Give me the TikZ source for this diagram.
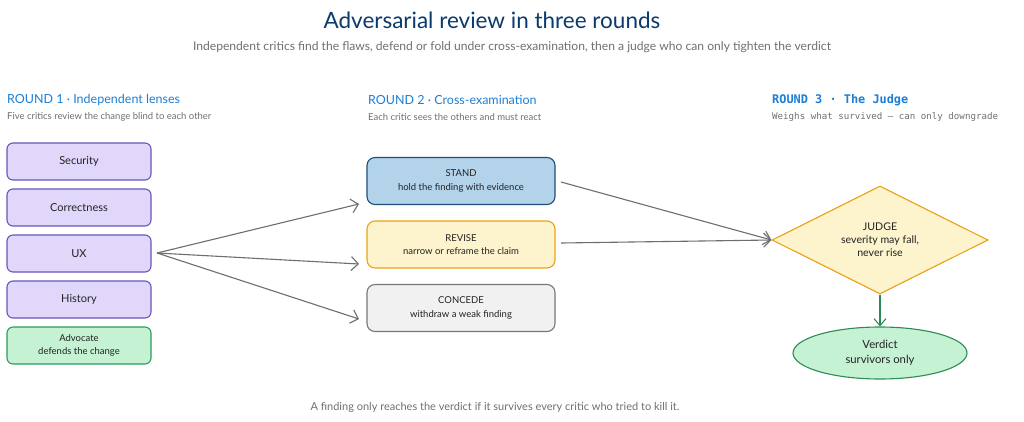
\documentclass[tikz,border=0pt]{standalone}
\usepackage{fontspec}
\setmainfont{Lato}
\newfontfamily\monof{DejaVu Sans Mono}
\usetikzlibrary{arrows.meta,shapes.geometric}
\definecolor{titleblue}{HTML}{0B3A6E}
\definecolor{hdrblue}{HTML}{1C7FD6}
\definecolor{subgray}{HTML}{707070}
\definecolor{txt}{HTML}{222222}
\definecolor{lavfill}{HTML}{E0D7FB}
\definecolor{lavdraw}{HTML}{6A55B8}
\definecolor{grnfill}{HTML}{C6F2D4}
\definecolor{grndraw}{HTML}{2E9A5C}
\definecolor{bluefill}{HTML}{B3D3EA}
\definecolor{bluedraw}{HTML}{1F4E79}
\definecolor{yelfill}{HTML}{FDF3CC}
\definecolor{yeldraw}{HTML}{E8A317}
\definecolor{grayfill}{HTML}{F1F1F1}
\definecolor{graydraw}{HTML}{777777}
\definecolor{arrowgray}{HTML}{6E6E6E}
\definecolor{arrowgreen}{HTML}{2E8B57}
\tikzset{
  critic/.style={draw=lavdraw, fill=lavfill, line width=1.1pt, rounded corners=6pt,
    minimum width=144pt, minimum height=37pt, inner sep=0pt, text=txt, font=\fontsize{11}{13}\selectfont},
  advocate/.style={critic, draw=grndraw, fill=grnfill, align=center, font=\fontsize{9.5}{13}\selectfont},
  react/.style={line width=1.1pt, rounded corners=8pt, minimum width=188pt, minimum height=47pt,
    inner sep=0pt, text=txt, align=center, font=\fontsize{9.5}{13.5}\selectfont},
  hdr/.style={anchor=west, text=hdrblue, font=\fontsize{12.5}{15}\selectfont, inner sep=0pt},
  sub/.style={anchor=west, text=subgray, font=\fontsize{9.5}{11}\selectfont, inner sep=0pt},
  flow/.style={draw=arrowgray, line width=1.1pt, -{Straight Barb[length=7pt,width=14pt,line width=1.1pt]}},
}
\begin{document}
\begin{tikzpicture}[x=1pt,y=-1pt]
\useasboundingbox (0,0) rectangle (1024,421);
\fill[white] (0,0) rectangle (1024,421);
% titles
\node[text=titleblue, font=\fontsize{22.5}{26}\selectfont, inner sep=0pt] (title) at (492,20) {Adversarial review in three rounds};
\node[text=subgray, font=\fontsize{12.1}{14}\selectfont, inner sep=0pt] (subtitle) at (512,47) {Independent critics find the flaws, defend or fold under cross-examination, then a judge who can only tighten the verdict};
% round headers
\node[hdr] (h1) at (7,100) {ROUND 1 · Independent lenses};
\node[sub] (s1) at (7,117) {Five critics review the change blind to each other};
\node[hdr] (h2) at (368,100) {ROUND 2 · Cross-examination};
\node[sub] (s2) at (368,117) {Each critic sees the others and must react};
\node[hdr, font=\monof\fontsize{11.9}{14}\selectfont\bfseries] (h3) at (772,100) {ROUND 3 · The Judge};
\node[sub, font=\monof\fontsize{9.15}{11}\selectfont] (s3) at (772,117) {Weighs what survived — can only downgrade};
% round 1
\node[critic] (sec) at (79,161.5) {Security};
\node[critic] (cor) at (79,207.5) {Correctness};
\node[critic] (ux) at (79,253.5) {UX};
\node[critic] (his) at (79,299.5) {History};
\node[advocate] (adv) at (79,345.5) {Advocate\\defends the change};
% round 2
\node[react, draw=bluedraw, fill=bluefill] (stand) at (461,181) {STAND\\hold the finding with evidence};
\node[react, draw=yeldraw, fill=yelfill] (revise) at (461,244.5) {REVISE\\narrow or reframe the claim};
\node[react, draw=graydraw, fill=grayfill] (concede) at (461,308) {CONCEDE\\withdraw a weak finding};
% round 3
\node[diamond, draw=yeldraw, fill=yelfill, line width=1.1pt, minimum width=216pt, minimum height=108pt,
  inner sep=0pt, aspect=2, align=center, text=txt, font=\fontsize{10.6}{13}\selectfont] (judge) at (880,240)
  {JUDGE\\severity may fall,\\never rise};
\node[ellipse, draw=arrowgreen, fill=grnfill, line width=1.1pt, minimum width=174pt, minimum height=52pt,
  inner sep=0pt, align=center, text=txt, font=\fontsize{11.3}{14.5}\selectfont] (verdict) at (880,353)
  {Verdict\\survivors only};
% connectors
\coordinate (uxo) at (157,253);
\draw[flow] (uxo) -- (359,204);
\draw[flow] (uxo) -- (359,264);
\draw[flow] (uxo) -- (359,319);
\draw[flow] (561,182) -- (judge.west);
\draw[flow] (561,243) -- (judge.west);
\draw[draw=arrowgreen, line width=1.1pt, -{Straight Barb[length=7pt,width=12pt,line width=1.1pt]}] (judge.south) -- (verdict.north);
% footer
\node[text=subgray, font=\fontsize{11}{13}\selectfont, inner sep=0pt] (footer) at (495,407) {A finding only reaches the verdict if it survives every critic who tried to kill it.};
\end{tikzpicture}
\end{document}
